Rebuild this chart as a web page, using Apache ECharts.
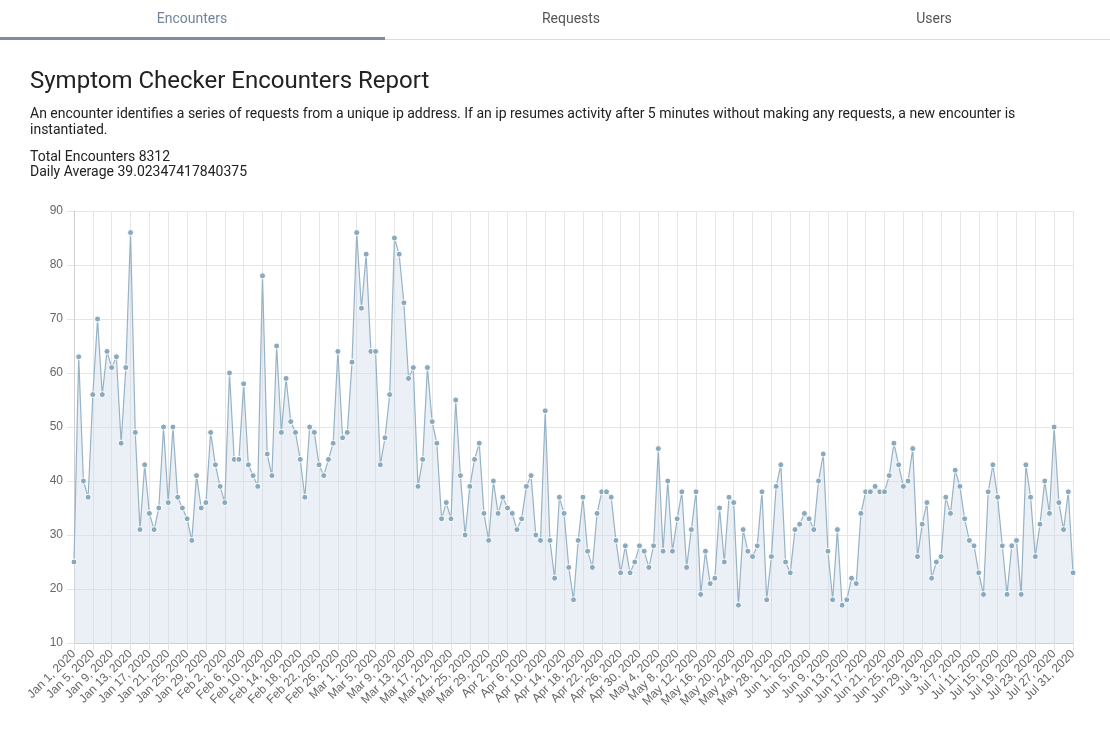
<!DOCTYPE html>
<html>
<head>
<meta charset="utf-8">
<script src="https://cdn.jsdelivr.net/npm/echarts@6/dist/echarts.min.js"></script>
<style>
  html, body { margin: 0; padding: 0; width: 1110px; height: 745px; background: #fff; overflow: hidden; }
  #chart { position: absolute; left: 0; top: 0; width: 1110px; height: 745px; }
  .tab { position: absolute; top: 10px; font-family: Roboto, "Noto Sans", sans-serif; font-size: 14px; color: #555; transform: translateX(-50%); white-space: nowrap; }
  .tab.active { color: #72849a; }
  #tabline { position: absolute; left: 0; top: 39px; width: 1110px; height: 1px; background: #dcdcdc; }
  #tabactive { position: absolute; left: 0; top: 37px; width: 385px; height: 3px; background: #7d8ea3; }
  #head { position: absolute; left: 30px; top: 65px; font-family: Roboto, "Noto Sans", sans-serif; color: #222; }
  #title { font-size: 24px; font-weight: 400; line-height: 30px; margin: 0; white-space: nowrap; }
  #desc { font-size: 14px; line-height: 16px; margin-top: 10px; white-space: nowrap; }
  #stats { font-size: 14px; line-height: 15px; margin-top: 12px; white-space: nowrap; }
</style>
</head>
<body>
<div id="chart"></div>
<div class="tab active" style="left:192px">Encounters</div>
<div class="tab" style="left:571px">Requests</div>
<div class="tab" style="left:934px">Users</div>
<div id="tabline"></div>
<div id="tabactive"></div>
<div id="head">
  <div id="title">Symptom Checker Encounters Report</div>
  <div id="desc">An encounter identifies a series of requests from a unique ip address. If an ip resumes activity after 5 minutes without making any requests, a new encounter is<br>instantiated.</div>
  <div id="stats">Total Encounters 8312<br>Daily Average 39.02347417840375</div>
</div>
<script>
// Date categories: Jan 1, 2020 .. Jul 31, 2020 (213 days)
const monthNames = ["Jan","Feb","Mar","Apr","May","Jun","Jul","Aug","Sep","Oct","Nov","Dec"];
const startDate = [2020, 0, 1];
const dayCount = 213;
const categories = [];
for (let i = 0; i < dayCount; i++) {
  const d = new Date(Date.UTC(startDate[0], startDate[1], startDate[2] + i));
  categories.push(monthNames[d.getUTCMonth()] + " " + d.getUTCDate() + ", " + d.getUTCFullYear());
}

const encountersJan = [25,63,40,37,56,70,56,64,61,63,47,61,86,49,31,43,34,31,35,50,36,50,37,35,33,29,41,35,36,49,43];
const encountersFeb = [39,36,60,44,44,58,43,41,39,78,45,41,65,49,59,51,49,44,37,50,49,43,41,44,47,64,48,49,62];
const encountersMar = [86,72,82,64,64,43,48,56,85,82,73,59,61,39,44,61,51,47,33,36,33,55,41,30,39,44,47,34,29,40,34];
const encountersApr = [37,35,34,31,33,39,41,30,29,53,29,22,37,34,24,18,29,37,27,24,34,38,38,37,29,23,28,23,25,28];
const encountersMay = [27,24,28,46,27,40,27,33,38,24,31,38,19,27,21,22,35,25,37,36,17,31,27,26,28,38,18,26,39,43,25];
const encountersJun = [23,31,32,34,33,31,40,45,27,18,31,17,18,22,21,34,38,38,39,38,38,41,47,43,39,40,46,26,32,36];
const encountersJul = [22,25,26,37,34,42,39,33,29,28,23,19,38,43,37,28,19,28,29,19,43,37,26,32,40,34,50,36,31,38,23];
const encounters = [].concat(encountersJan, encountersFeb, encountersMar, encountersApr, encountersMay, encountersJun, encountersJul);

const yTicks = { min: 10, max: 90, step: 10 };

const chart = echarts.init(document.getElementById('chart'), null, { renderer: 'canvas' });
const labelFont = '"Liberation Sans", Arial, sans-serif';
chart.setOption({
  animation: false,
  grid: { left: 74, right: 37, top: 211, bottom: 102, containLabel: false },
  xAxis: {
    type: 'category',
    data: categories,
    boundaryGap: false,
    axisLine: { show: true, lineStyle: { color: '#d0d0d0', width: 1 } },
    axisTick: { show: true, interval: 3, length: 7, lineStyle: { color: '#e4e4e4' } },
    splitLine: { show: true, interval: 3, lineStyle: { color: '#e6e6e6', width: 1 } },
    axisLabel: { interval: 3, rotate: 45, color: '#666', fontSize: 12, fontFamily: labelFont, margin: 9 }
  },
  yAxis: {
    type: 'value',
    min: yTicks.min, max: yTicks.max, interval: yTicks.step,
    axisLine: { show: true, lineStyle: { color: '#d0d0d0', width: 1 } },
    axisTick: { show: true, length: 7, lineStyle: { color: '#e4e4e4' } },
    splitLine: { show: true, lineStyle: { color: '#e6e6e6', width: 1 } },
    axisLabel: { color: '#666', fontSize: 12, fontFamily: labelFont, margin: 11 }
  },
  series: [{
    type: 'line',
    data: encounters,
    showAllSymbol: true,
    symbol: 'circle',
    symbolSize: 6,
    lineStyle: { color: '#97b3c6', width: 1.2 },
    itemStyle: { color: '#8ba9bd', borderColor: '#ffffff', borderWidth: 1 },
    areaStyle: { color: 'rgba(206,220,233,0.6)' },
    emphasis: { disabled: true }
  }]
});
</script>
</body>
</html>
